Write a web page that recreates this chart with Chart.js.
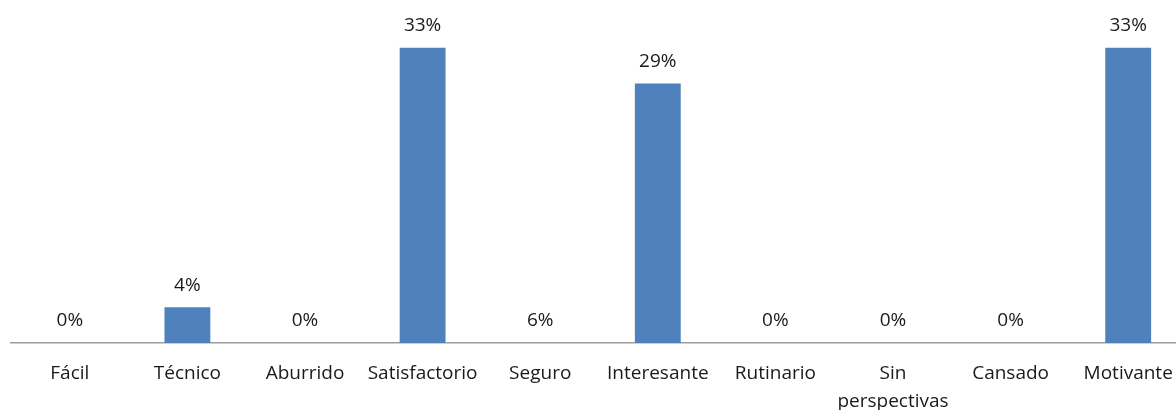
<!DOCTYPE html>
<html>
<head>
<meta charset="utf-8">
<script src="https://cdn.jsdelivr.net/npm/chart.js@4.4.1/dist/chart.umd.min.js"></script>
<style>
html,body{margin:0;padding:0;background:#fff;overflow:hidden;}
#wrap{width:1190px;height:410px;}
</style>
</head>
<body>
<div id="wrap"><canvas id="c" width="1190" height="410"></canvas></div>
<script>
const categories = ['Fácil', 'Técnico', 'Aburrido', 'Satisfactorio', 'Seguro', 'Interesante', 'Rutinario', ['Sin', 'perspectivas'], 'Cansado', 'Motivante'];
const values = [0, 4, 0, 33, 0, 29, 0, 0, 0, 33];
const valueLabels = ['0%', '4%', '0%', '33%', '6%', '29%', '0%', '0%', '0%', '33%'];
const yMax = 36;

const FONT = '"Open Sans", "Noto Sans", sans-serif';

const labelPlugin = {
  id: 'valueLabels',
  afterDatasetsDraw(chart) {
    const ctx = chart.ctx;
    const meta = chart.getDatasetMeta(0);
    ctx.save();
    ctx.font = '19px ' + FONT;
    ctx.fillStyle = '#1a1a1a';
    ctx.textAlign = 'center';
    ctx.textBaseline = 'middle';
    meta.data.forEach((bar, i) => {
      ctx.fillText(valueLabels[i], bar.x, bar.y - 22);
    });
    ctx.restore();
  }
};

new Chart(document.getElementById('c'), {
  type: 'bar',
  data: {
    labels: categories,
    datasets: [{
      data: values,
      backgroundColor: '#4F81BD',
      borderWidth: 0,
      barPercentage: 0.39,
      categoryPercentage: 1.0
    }]
  },
  options: {
    responsive: false,
    animation: false,
    layout: { padding: { left: 11, right: 3, top: 21, bottom: 0 } },
    plugins: { legend: { display: false }, tooltip: { enabled: false } },
    scales: {
      x: {
        grid: { display: false, drawTicks: false },
        border: { display: true, color: '#9E9E9E', width: 1.5 },
        ticks: {
          color: '#1a1a1a',
          font: { family: FONT, size: 19, lineHeight: 1.5 },
          padding: 16,
          maxRotation: 0,
          autoSkip: false
        },
        afterFit(scale) { scale.height = 67; }
      },
      y: {
        display: false,
        min: 0,
        max: yMax
      }
    }
  },
  plugins: [labelPlugin]
});
</script>
</body>
</html>
